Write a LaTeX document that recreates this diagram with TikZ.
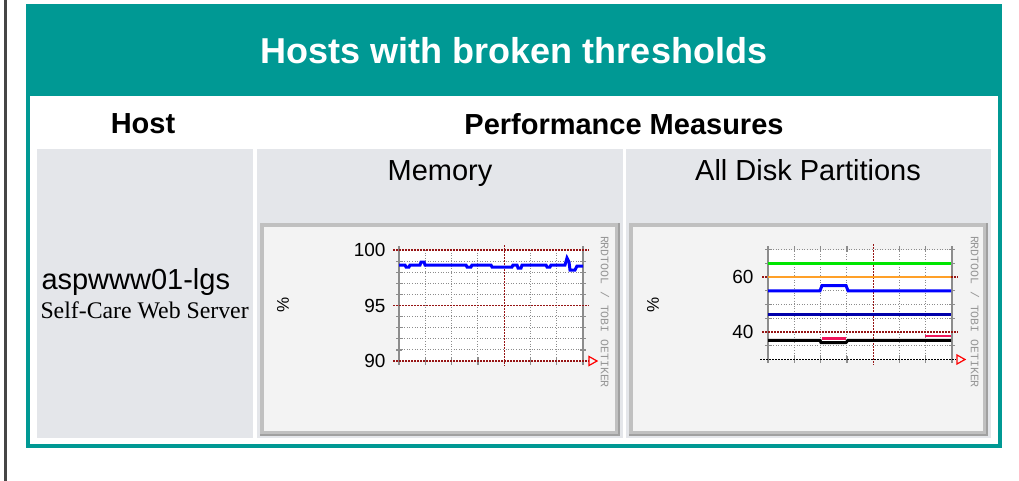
\documentclass[tikz,border=0pt]{standalone}
\usepackage{fontspec}
\setmainfont{Liberation Sans}
\newfontfamily\serifface{Liberation Serif}
\newfontfamily\monoface{Liberation Mono}
\usetikzlibrary{positioning}

\definecolor{headteal}{RGB}{0,153,148}
\definecolor{cellgray}{RGB}{228,230,234}
\definecolor{boxgray}{RGB}{243,243,243}
\definecolor{rimgray}{RGB}{192,192,192}
\definecolor{rimdark}{RGB}{160,160,160}
\definecolor{gridgray}{RGB}{140,140,140}
\definecolor{gridred}{RGB}{150,20,20}
\definecolor{creditgray}{RGB}{150,150,150}
\definecolor{darkrule}{RGB}{70,70,70}
\definecolor{rrdblue}{RGB}{0,0,255}
\definecolor{rrdnavy}{RGB}{0,0,170}
\definecolor{rrdgreen}{RGB}{0,230,0}
\definecolor{rrdorange}{RGB}{255,160,40}
\definecolor{rrdpink}{RGB}{240,20,90}

\begin{document}
\begin{tikzpicture}
[x=1pt, y=-1pt, line width=1pt,
band/.style={rectangle, fill=headteal, inner sep=0pt},
frame/.style={draw=headteal, line width=4pt},
cell/.style={rectangle, fill=cellgray, inner sep=0pt, minimum height=289pt},
chartbox/.style={rectangle, draw=rimgray, line width=4pt, fill=boxgray, inner sep=0pt, minimum height=208pt},
plotarea/.style={rectangle, fill=white, inner sep=0pt},
headtext/.style={font=\fontsize{29}{32}\selectfont\bfseries},
celltext/.style={font=\fontsize{29}{32}\selectfont, anchor=base},
axislabel/.style={font=\fontsize{19}{20}\selectfont, anchor=east, inner sep=0pt},
unitlabel/.style={font=\fontsize{17}{17}\selectfont, rotate=90},
credit/.style={font=\monoface\fontsize{11.5}{12}\selectfont, text=creditgray, rotate=-90},
minorgrid/.style={draw=gridgray, line width=1pt, dash pattern=on 1pt off 1.6pt},
majorgrid/.style={draw=gridred, line width=1.2pt, dash pattern=on 1.5pt off 1.5pt},
axisline/.style={draw=gridgray, line width=1.2pt},
datafeed/.style={line width=3pt}]

\useasboundingbox (0,0) rectangle (1019,481);

\draw[line width=3pt, draw=darkrule] (5.5,0) -- (5.5,481);

\draw[frame] (28,90) -- (28,446) -- (1000,446) -- (1000,90);
\node[band, minimum width=976pt, minimum height=92pt] (titleband) at (514,50) {};
\node[font=\fontsize{36}{40}\selectfont\bfseries, text=white] (title) at (514,51) {Hosts with broken thresholds};

\node[headtext] (hosthead) at (143,124) {Host};
\node[headtext] (perfhead) at (624,124) {Performance Measures};

\node[cell, minimum width=216pt] (hostcell) at (145,293.5) {};
\node[cell, minimum width=366pt] (memcell) at (440,293.5) {};
\node[cell, minimum width=365pt] (diskcell) at (808.5,293.5) {};

\node[font=\fontsize{29}{30}\selectfont, anchor=base west, inner sep=0pt] (hostname) at (41,289) {aspwww01-lgs};
\node[font=\serifface\fontsize{23.8}{25}\selectfont, anchor=base west, inner sep=0pt] (hostdesc) at (40,318) {Self-Care Web Server};

\node[celltext] (memtitle) at (440,181) {Memory};
\node[celltext] (disktitle) at (808,181) {All Disk Partitions};

\node[chartbox, minimum width=355pt] (memchart) at (439.5,329) {};
\draw[draw=rimdark, line width=2pt] (memchart.north east) -- (memchart.south east) -- (memchart.south west);
\node[chartbox, minimum width=354pt] (diskchart) at (808,329) {};
\draw[draw=rimdark, line width=2pt] (diskchart.north east) -- (diskchart.south east) -- (diskchart.south west);

\node[plotarea, minimum width=184pt, minimum height=111pt] (memplot) at (491,305.5) {};
\foreach \y in {261.1,272.2,283.3,294.4,316.6,327.7,338.8,349.9}{
  \draw[minorgrid] (399,\y) -- (583,\y);
  \draw[axisline] (396,\y) -- (402,\y);
  \draw[axisline] (580,\y) -- (586,\y);
}
\foreach \x in {425.3,451.6,477.9,530.4,556.7}{
  \draw[minorgrid] (\x,250) -- (\x,361);
  \draw[axisline] (\x,357) -- (\x,365);
}
\draw[axisline] (399,246) -- (399,365);
\draw[axisline] (583,246) -- (583,365);
\draw[majorgrid] (504.1,245) -- (504.1,366);
\foreach \y in {250,305.5,361}
  \draw[majorgrid] (393,\y) -- (589,\y);
\draw[red, line width=1.2pt] (589,356.5) -- (597,361) -- (589,365.5) -- cycle;
\draw[datafeed, rrdblue] (399,265) -- (405,265) -- (406,267) -- (409,267) -- (410,265) -- (420,265) -- (421,262) -- (424,262) -- (425,265)
  -- (466,265) -- (467,267) -- (471,267) -- (472,265) -- (491,265) -- (492,267) -- (512,267) -- (513,265) -- (517,265) -- (518,268)
  -- (521,268) -- (522,265) -- (546,265) -- (547,267) -- (550,267) -- (551,265) -- (565,265) -- (567,258) -- (569,262) -- (570,270)
  -- (575,270) -- (577,266) -- (583,266);
\node[axislabel] (mem100) at (386,250) {100};
\node[axislabel] (mem95) at (386,305.5) {95};
\node[axislabel] (mem90) at (386,361) {90};
\node[unitlabel] (memunit) at (283,305) {\%};
\node[credit] (memcredit) at (605,312) {RRDTOOL / TOBI OETIKER};

\node[plotarea, minimum width=184pt, minimum height=110pt] (diskplot) at (860,304.5) {};
\foreach \y in {249.5,263.25,290.75,304.5,318.25,345.75}{
  \draw[minorgrid] (768,\y) -- (952,\y);
  \draw[axisline] (765,\y) -- (771,\y);
  \draw[axisline] (949,\y) -- (955,\y);
}
\foreach \x in {794.3,820.6,846.9,899.5,925.8}{
  \draw[minorgrid] (\x,246) -- (\x,359.5);
  \draw[axisline] (\x,246) -- (\x,252);
  \draw[axisline] (\x,356) -- (\x,363);
}
\draw[axisline] (768,246) -- (768,363);
\draw[axisline] (952,246) -- (952,363);
\draw[majorgrid] (873.2,244) -- (873.2,365);
\foreach \y in {277,332}
  \draw[majorgrid] (762,\y) -- (958,\y);
\draw[draw=black, line width=1.4pt, dash pattern=on 2pt off 1pt] (760,359.5) -- (956,359.5);
\draw[red, line width=1.2pt] (957,355) -- (965,359.5) -- (957,364) -- cycle;
\draw[datafeed, rrdgreen] (768,263.25) -- (951,263.25);
\draw[line width=2pt, rrdorange] (768,277) -- (951,277);
\draw[datafeed, rrdblue] (768,290.75) -- (820,290.75) -- (822,285.5) -- (846,285.5) -- (848,290.75) -- (951,290.75);
\draw[datafeed, rrdnavy] (768,314) -- (951,314);
\draw[line width=2.5pt, rrdpink] (822,338.5) -- (846,338.5);
\draw[line width=2.5pt, rrdpink] (925,336) -- (951,336);
\draw[datafeed, black] (768,340.25) -- (820,340.25) -- (821,342.5) -- (846,342.5) -- (848,340.25) -- (951,340.25);
\node[axislabel] (disk60) at (754,277) {60};
\node[axislabel] (disk40) at (754,332) {40};
\node[unitlabel] (diskunit) at (653,305) {\%};
\node[credit] (diskcredit) at (975,312) {RRDTOOL / TOBI OETIKER};
\end{tikzpicture}
\end{document}
